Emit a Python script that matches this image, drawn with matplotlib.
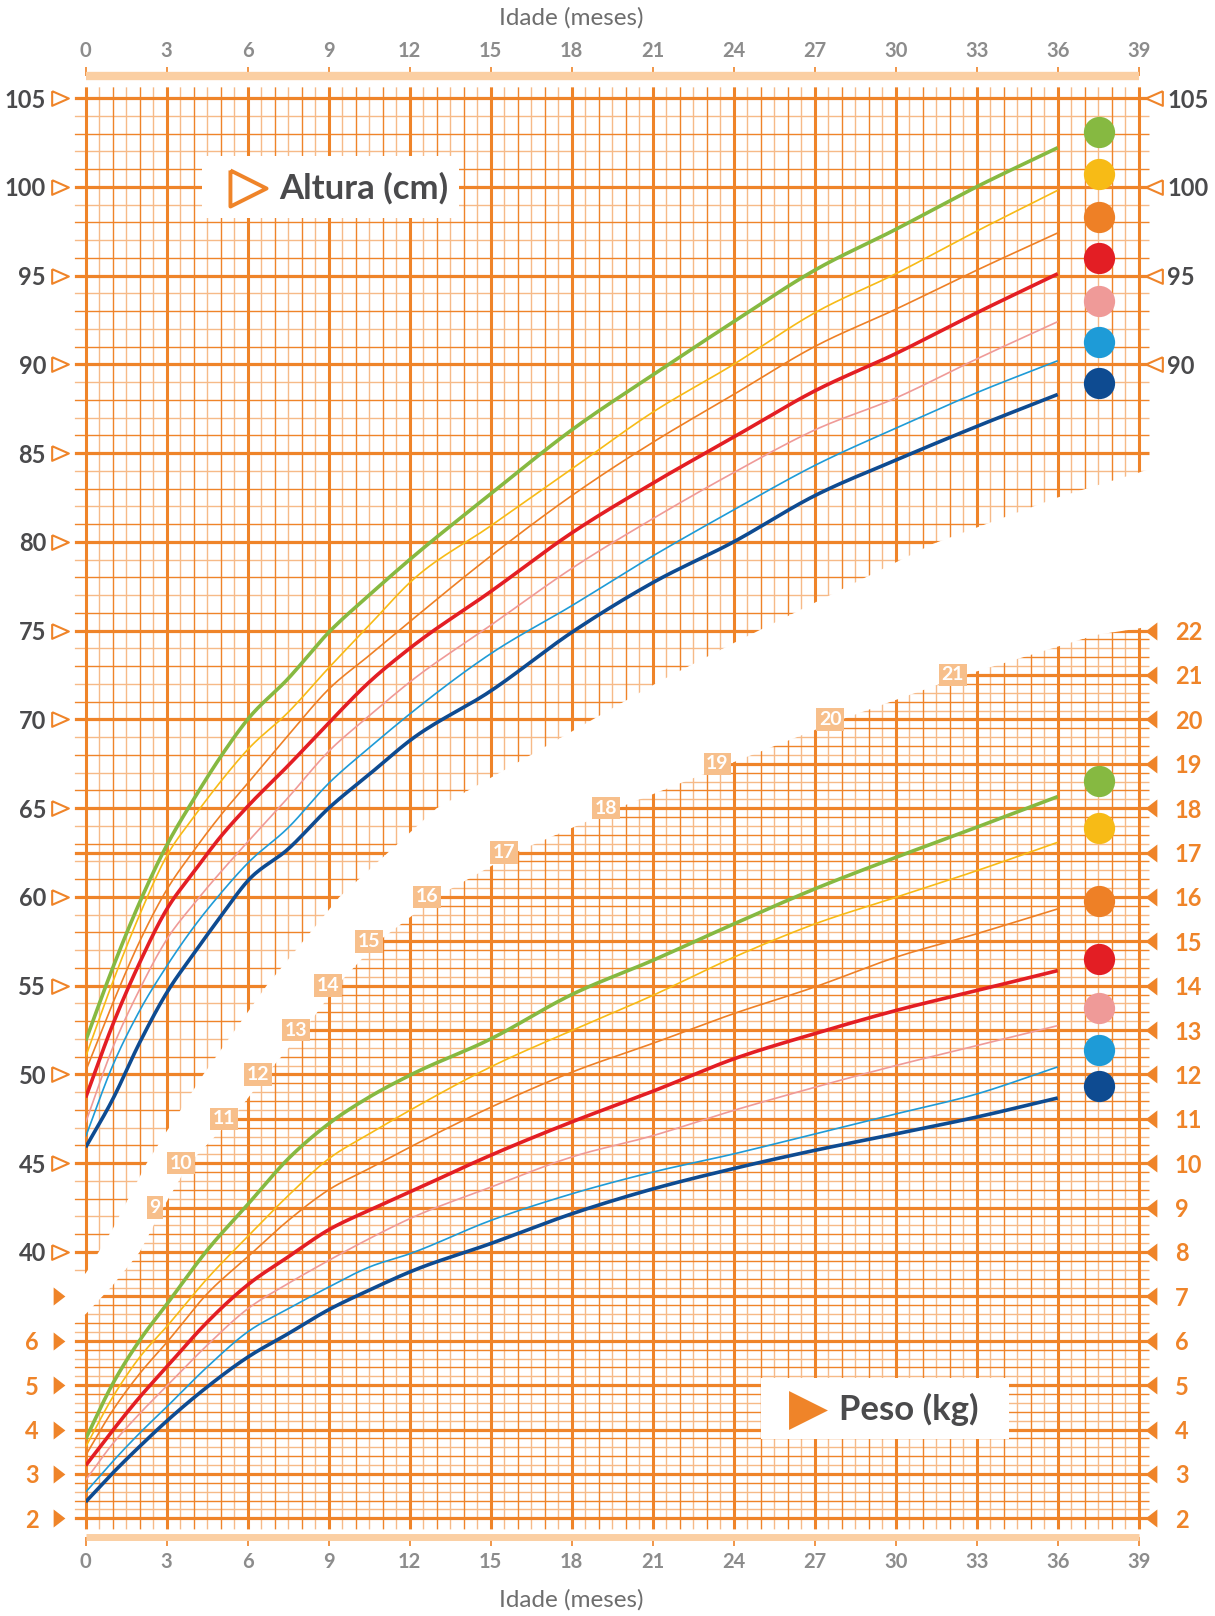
import numpy as np
import matplotlib
matplotlib.use("Agg")
import matplotlib.pyplot as plt
from matplotlib.patches import Polygon, Rectangle

plt.rcParams['font.family'] = ['Lato', 'DejaVu Sans']
plt.rcParams['font.weight'] = 'bold'

# ------------------------------------------------------------------ data
months_h = [0, 1, 2, 3, 4, 5, 6, 7.5, 9, 10.5, 12, 15, 18, 21, 24, 27, 30, 33, 36]
height_green  = [51.9, 56.0, 59.7, 62.9, 65.5, 67.9, 70.0, 72.3, 74.9, 77.0, 79.0, 82.7, 86.3, 89.4, 92.4, 95.3, 97.6, 100.0, 102.2]
height_yellow = [51.0, 55.2, 59.0, 62.3, 64.5, 66.5, 68.3, 70.4, 72.9, 75.3, 77.7, 80.9, 84.1, 87.3, 90.0, 92.9, 95.1, 97.5, 99.8]
height_orange = [50.2, 54.0, 57.5, 60.4, 62.6, 64.6, 66.4, 69.1, 71.7, 73.6, 75.5, 79.2, 82.6, 85.6, 88.3, 91.0, 93.1, 95.3, 97.4]
height_red    = [48.7, 52.8, 56.3, 59.3, 61.4, 63.4, 65.1, 67.4, 69.8, 72.1, 74.0, 77.2, 80.5, 83.3, 85.9, 88.5, 90.6, 92.9, 95.1]
height_pink   = [47.3, 51.5, 54.8, 57.6, 59.6, 61.4, 63.1, 65.6, 68.2, 70.2, 72.1, 75.3, 78.5, 81.3, 83.9, 86.3, 88.1, 90.3, 92.4]
height_lblue  = [46.5, 50.5, 53.6, 56.1, 58.3, 60.2, 61.9, 63.9, 66.4, 68.4, 70.3, 73.7, 76.4, 79.2, 81.8, 84.3, 86.4, 88.4, 90.2]
height_dblue  = [45.9, 48.6, 51.8, 54.6, 56.8, 58.9, 60.9, 62.7, 65.0, 66.9, 68.8, 71.6, 74.9, 77.7, 80.0, 82.6, 84.6, 86.5, 88.3]

months_w = [0, 1, 2, 3, 4.5, 6, 7.5, 9, 10.5, 12, 15, 18, 21, 24, 27, 30, 33, 36]
weight_green  = [3.79, 5.03, 6.01, 6.82, 8.04, 9.07, 10.10, 10.89, 11.49, 11.98, 12.80, 13.80, 14.57, 15.39, 16.18, 16.89, 17.57, 18.26]
weight_yellow = [3.61, 4.73, 5.63, 6.32, 7.40, 8.35, 9.27, 10.10, 10.66, 11.19, 12.17, 12.99, 13.78, 14.64, 15.39, 15.99, 16.59, 17.23]
weight_orange = [3.42, 4.43, 5.26, 5.96, 7.06, 7.89, 8.71, 9.40, 9.88, 10.36, 11.26, 12.05, 12.70, 13.37, 13.97, 14.64, 15.17, 15.73]
weight_red    = [3.19, 3.98, 4.73, 5.41, 6.42, 7.26, 7.89, 8.50, 8.94, 9.35, 10.18, 10.93, 11.62, 12.35, 12.92, 13.44, 13.89, 14.34]
weight_pink   = [2.86, 3.68, 4.36, 4.98, 5.90, 6.72, 7.29, 7.81, 8.30, 8.75, 9.46, 10.14, 10.62, 11.19, 11.71, 12.20, 12.65, 13.10]
weight_lblue  = [2.59, 3.28, 3.92, 4.51, 5.41, 6.20, 6.72, 7.21, 7.66, 7.96, 8.71, 9.31, 9.80, 10.21, 10.66, 11.11, 11.56, 12.17]
weight_dblue  = [2.37, 3.02, 3.62, 4.19, 4.96, 5.63, 6.16, 6.70, 7.14, 7.55, 8.19, 8.86, 9.42, 9.88, 10.29, 10.66, 11.04, 11.47]

x_ticks = list(range(0, 40, 3))
height_ticks_left = list(range(40, 106, 5))
height_ticks_right = [90, 95, 100, 105]
weight_ticks_left = [2, 3, 4, 5, 6, 7]
weight_labels_left = ['2', '3', '4', '5', '6', '']
weight_ticks_right = list(range(2, 23))
weight_grid_labels = list(range(9, 22))

# white band separating the two grids (height-grid lower edge / weight-grid upper edge)
band_top_months = [0, 1.0, 2.26, 3.0, 4.36, 6.7, 9.4, 13.0, 15.34, 21.2, 24.0, 31.4, 36.0, 39.0]
band_top_cm     = [38.8, 41.3, 45.0, 46.8, 50.0, 55.0, 60.0, 65.0, 67.0, 72.1, 74.3, 79.9, 82.5, 83.9]
band_bottom_months = [0, 1.0, 2.0, 2.87, 3.83, 5.42, 6.68, 8.09, 9.3, 10.84, 13.0, 15.9, 19.7, 23.85, 28.0, 32.57, 37.4, 39.0]
band_bottom_kg     = [6.6, 7.25, 8.0, 9.0, 10.0, 11.0, 12.0, 13.0, 14.0, 15.0, 16.0, 17.0, 18.0, 19.0, 20.0, 21.0, 21.9, 22.05]

# ------------------------------------------------------------------ layout / style
weight_grid_label_months = [2.57, 3.53, 5.12, 6.38, 7.79, 8.97, 10.49, 12.64, 15.5, 19.27, 23.4, 27.57, 32.12]
legend_h_pos = [103.1, 100.7, 98.3, 95.99, 93.57, 91.26, 88.95]
legend_w_pos = [18.62, 17.55, 15.9, 14.61, 13.49, 12.54, 11.75]

ORANGE = '#EF8429'
PEACH = '#F6BA88'
BAR = '#FBCFA3'
BOXC = '#F7BF8B'
DARK = '#4A4A4C'
GRAY = '#8C8C8C'
COLS = ['#86B941', '#F7BB16', '#EE8026', '#E31E24', '#EF9A98', '#1E9BD7', '#0E4B91']
LWS = [2.6, 1.2, 1.2, 2.6, 1.2, 1.2, 2.6]


def smooth_path(x, y, n=16):
    """Cubic Hermite drawing path through the read points (display smoothing only)."""
    x = np.asarray(x, float)
    y = np.asarray(y, float)
    h = np.diff(x)
    d = np.diff(y) / h
    m = np.empty_like(y)
    m[0], m[-1] = d[0], d[-1]
    m[1:-1] = (h[1:] * d[:-1] + h[:-1] * d[1:]) / (h[:-1] + h[1:])
    t = np.linspace(0, 1, n, endpoint=False)
    h00 = 2 * t**3 - 3 * t**2 + 1
    h10 = t**3 - 2 * t**2 + t
    h01 = -2 * t**3 + 3 * t**2
    h11 = t**3 - t**2
    xs, ys = [], []
    for i in range(len(x) - 1):
        xs.append(x[i] + t * h[i])
        ys.append(h00 * y[i] + h10 * h[i] * m[i] + h01 * y[i + 1] + h11 * h[i] * m[i + 1])
    xs.append([x[-1]])
    ys.append([y[-1]])
    return np.concatenate(xs), np.concatenate(ys)


fig = plt.figure(figsize=(12.15, 16.16), dpi=100)
Wf, Hf = 1215.0, 1616.0
L, R, T, B = 85.7, 1138.7, 98.0, 1518.3
ax = fig.add_axes([L / Wf, (Hf - B) / Hf, (R - L) / Wf, (B - T) / Hf])
ax.set_xlim(0, 39)
ax.set_ylim(25, 105)
ax_hr = ax.twinx(); ax_hr.set_ylim(25, 105)
ax_w = ax.twinx(); ax_w.set_ylim(2, 34)
ax_wr = ax.twinx(); ax_wr.set_ylim(2, 34)

for a in (ax_hr, ax_w, ax_wr):
    for s in a.spines.values():
        s.set_visible(False)
ax.spines['left'].set_visible(False)
ax.spines['right'].set_visible(False)

# clip polygons
top_pts = list(zip(band_top_months, band_top_cm))
hverts = [(-0.4, 105.6), (39.4, 105.6), (39.4, band_top_cm[-1] + 0.2)] + top_pts[::-1] + [(-0.4, band_top_cm[0] - 0.4)]
hpoly = Polygon(hverts, closed=True, transform=ax.transData)
bot_pts = list(zip(band_bottom_months, band_bottom_kg))
wverts = [(-0.4, band_bottom_kg[0] - 0.2)] + bot_pts + [(39.4, band_bottom_kg[-1] + 0.05), (39.4, 1.75), (-0.4, 1.75)]
wpoly = Polygon(wverts, closed=True, transform=ax_w.transData)


def clip(coll, poly):
    coll.set_clip_path(poly)
    coll.set_clip_box(None)


xs = np.arange(0, 39.01, 0.5)
vx_major = [x for x in xs if abs(x / 3 - round(x / 3)) < 1e-9]
vx_int = [x for x in xs if x == int(x) and int(x) % 3 != 0]
vx_half = [x for x in xs if x != int(x)]

for a, poly, (ylo, yhi) in ((ax, hpoly, (24, 106.5)), (ax_w, wpoly, (1.5, 34.5))):
    for xv, col, lw, z in ((vx_half, PEACH, 1.0, 1.0), (vx_int, ORANGE, 1.0, 1.1), (vx_major, ORANGE, 2.2, 1.3)):
        c = a.vlines(xv, ylo, yhi, colors=col, linewidth=lw, zorder=z)
        clip(c, poly)

cm_all = np.arange(25, 106)
h_major = [c for c in cm_all if c % 5 == 0] + [62.5]
h_orange = [c for c in cm_all if c % 5 in (1, 3)]
h_peach = [c for c in cm_all if c % 5 in (2, 4)]
for yv, col, lw, z in ((h_peach, PEACH, 1.0, 1.0), (h_orange, ORANGE, 1.0, 1.1), (h_major, ORANGE, 2.3, 1.3)):
    c = ax.hlines(yv, -0.5, 39.5, colors=col, linewidth=lw, zorder=z)
    clip(c, hpoly)

steps = np.arange(0, 161)
kg_vals = 2 + steps * 0.2
w_major = kg_vals[steps % 5 == 0]
w_orange = kg_vals[np.isin(steps % 5, [2, 4])]
w_peach = kg_vals[np.isin(steps % 5, [1, 3])]
for yv, col, lw, z in ((w_peach, PEACH, 1.0, 1.0), (w_orange, ORANGE, 1.0, 1.1), (w_major, ORANGE, 2.3, 1.3)):
    c = ax_w.hlines(yv, -0.5, 39.5, colors=col, linewidth=lw, zorder=z)
    clip(c, wpoly)

# curves
h_series = [height_green, height_yellow, height_orange, height_red, height_pink, height_lblue, height_dblue]
w_series = [weight_green, weight_yellow, weight_orange, weight_red, weight_pink, weight_lblue, weight_dblue]
order = [4, 5, 2, 1, 0, 3, 6]
for i in order:
    z = 4 + (LWS[i] > 2) * 0.5
    hx, hy = smooth_path(months_h, h_series[i])
    ax.plot(hx, hy, color=COLS[i], lw=LWS[i], zorder=z, solid_joinstyle='round', solid_capstyle='butt')
    wx, wy = smooth_path(months_w, w_series[i])
    ax_w.plot(wx, wy, color=COLS[i], lw=LWS[i], zorder=z, solid_joinstyle='round', solid_capstyle='butt')

# legend dots
for i in range(7):
    ax.plot([37.53], [legend_h_pos[i]], 'o', ms=22.5, mfc=COLS[i], mec='none', zorder=6)
    ax_w.plot([37.53], [legend_w_pos[i]], 'o', ms=22.5, mfc=COLS[i], mec='none', zorder=6)

# weight grid labels
for k, m in zip(weight_grid_labels, weight_grid_label_months):
    ax_w.text(m, k, str(k), ha='center', va='center', fontsize=14, color='white', fontweight='bold',
              zorder=3, bbox=dict(boxstyle='square,pad=0.14', fc=BOXC, ec='none'))

# title boxes
tri_r = [(-1, 1), (1, 0), (-1, -1), (-1, 1)]
ax.add_patch(Rectangle((4.31, 98.24), 9.52, 3.49, fc='white', ec='none', zorder=3))
ax.plot([6.0], [99.93], ls='none', marker=tri_r, ms=26, mfc='white', mec=ORANGE, mew=2.8, zorder=4)
ax.text(7.15, 99.93, 'Altura (cm)', fontsize=25, fontweight='bold', color=DARK, va='center', ha='left', zorder=4)

ax_w.add_patch(Rectangle((25.0, 3.78), 9.2, 1.37, fc='white', ec='none', zorder=3))
ax_w.plot([26.75], [4.45], ls='none', marker=tri_r, ms=28, mfc=ORANGE, mec='none', zorder=4)
ax_w.text(27.9, 4.45, 'Peso (kg)', fontsize=25, fontweight='bold', color=DARK, va='center', ha='left', zorder=4)

# side triangles
tri_open_r = [(-1, 0.88), (1, 0), (-1, -0.88), (-1, 0.88)]
tri_open_l = [(1, 0.88), (-1, 0), (1, -0.88), (1, 0.88)]
tri_fill_r = [(-0.65, 1), (0.65, 0), (-0.65, -1), (-0.65, 1)]
tri_fill_l = [(0.65, 1), (-0.65, 0), (0.65, -1), (0.65, 1)]
ax.plot([-0.95] * len(height_ticks_left), height_ticks_left, ls='none', marker=tri_open_r, ms=12,
        mfc='white', mec=ORANGE, mew=1.5, clip_on=False, zorder=6)
ax.plot([39.55] * len(height_ticks_right), height_ticks_right, ls='none', marker=tri_open_l, ms=12,
        mfc='white', mec=ORANGE, mew=1.5, clip_on=False, zorder=6)
ax_w.plot([-0.99] * len(weight_ticks_left), weight_ticks_left, ls='none', marker=tri_fill_r, ms=13,
          mfc=ORANGE, mec='none', clip_on=False, zorder=6)
ax_w.plot([39.46] * len(weight_ticks_right), weight_ticks_right, ls='none', marker=tri_fill_l, ms=13,
          mfc=ORANGE, mec='none', clip_on=False, zorder=6)

# y tick labels
ax.set_yticks(height_ticks_left)
ax.set_yticklabels([str(v) for v in height_ticks_left])
ax.tick_params(axis='y', left=True, right=False, labelleft=True, labelright=False, length=0, pad=28.5,
               labelsize=17, labelcolor=DARK)
ax_hr.set_yticks(height_ticks_right)
ax_hr.set_yticklabels([str(v) for v in height_ticks_right])
ax_hr.tick_params(axis='y', left=False, right=True, labelleft=False, labelright=True, length=0, pad=20.5,
                  labelsize=17, labelcolor=DARK)
ax_w.yaxis.set_ticks_position('left')
ax_w.set_yticks(weight_ticks_left)
ax_w.set_yticklabels(weight_labels_left)
ax_w.tick_params(axis='y', left=True, right=False, labelleft=True, labelright=False, length=0, pad=34,
                 labelsize=17, labelcolor=ORANGE)
ax_wr.set_yticks(weight_ticks_right)
ax_wr.set_yticklabels([str(v) for v in weight_ticks_right])
ax_wr.tick_params(axis='y', left=False, right=True, labelleft=False, labelright=True, length=0, pad=26,
                  labelsize=17, labelcolor=ORANGE)

# x axes (top and bottom bars)
ax.set_xticks(x_ticks)
ax.set_xticklabels([str(v) for v in x_ticks])
ax.tick_params(axis='x', top=True, bottom=True, labeltop=True, labelbottom=True, direction='out',
               length=6.5, width=1.2, color=ORANGE, labelsize=14.5, labelcolor=GRAY, pad=4)
ax.spines['top'].set_position(('outward', 15.8))
ax.spines['top'].set_color(BAR)
ax.spines['top'].set_linewidth(6)
ax.spines['top'].set_capstyle('butt')
ax.spines['bottom'].set_position(('outward', 13.7))
ax.spines['bottom'].set_color(BAR)
ax.spines['bottom'].set_linewidth(5)
ax.spines['bottom'].set_capstyle('butt')

xc = (L + 18 * 27.0) / Wf
fig.text(xc, 1 - 17.5 / Hf, 'Idade (meses)', ha='center', va='center', fontsize=17.5, color='#6E6E6E',
         fontweight='normal')
fig.text(xc, 1 - 1600 / Hf, 'Idade (meses)', ha='center', va='center', fontsize=17.5, color='#6E6E6E',
         fontweight='normal')

fig.savefig('out.png', dpi=100, facecolor='white')
